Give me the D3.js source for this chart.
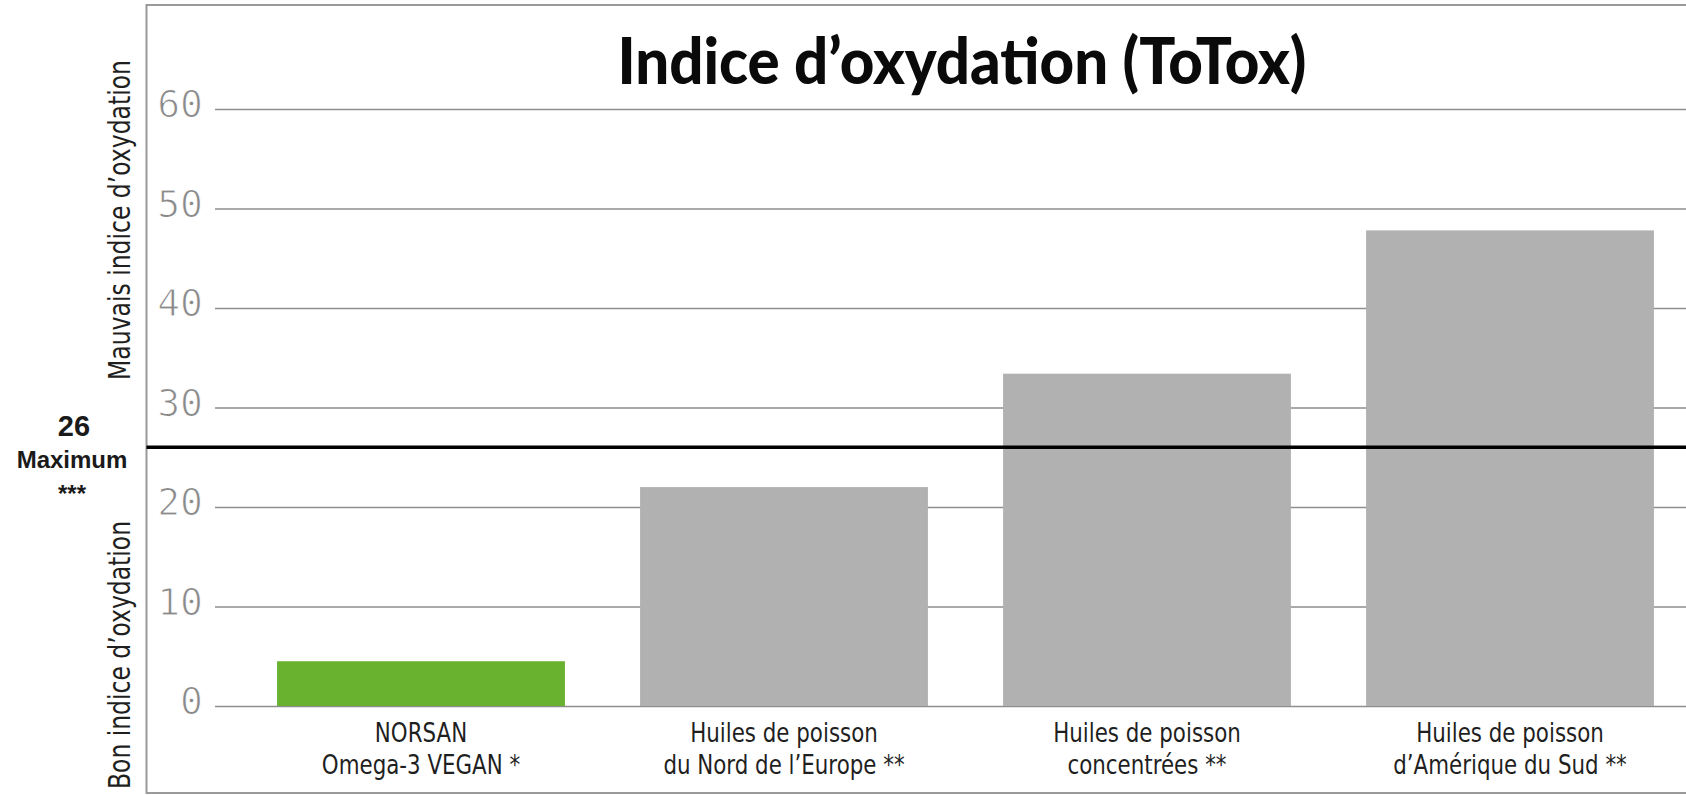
<!DOCTYPE html>
<html lang="fr">
<head>
<meta charset="utf-8">
<title>Indice d'oxydation (ToTox)</title>
<script src="https://cdn.jsdelivr.net/npm/d3@7"></script>
<style>
  html, body { margin: 0; padding: 0; background: #fff; }
  svg { display: block; }
  .tick text { font-family: "DejaVu Sans Mono", monospace; }
  .cat-label { font-family: "Liberation Sans Narrow", "DejaVu Sans Condensed", sans-serif; fill: #1f1f1f; }
  .side-label { font-family: "Liberation Sans Narrow", "DejaVu Sans Condensed", sans-serif; fill: #1f1f1f; }
</style>
</head>
<body>
<div id="chart"></div>
<script>
// Données
const categories = [
  "NORSAN Omega-3 VEGAN *",
  "Huiles de poisson du Nord de l'Europe **",
  "Huiles de poisson concentrées **",
  "Huiles de poisson d'Amérique du Sud **"
];
const categoryLines = [
  ["NORSAN", "Omega-3 VEGAN *"],
  ["Huiles de poisson", "du Nord de l’Europe **"],
  ["Huiles de poisson", "concentrées **"],
  ["Huiles de poisson", "d’Amérique du Sud **"]
];
const totoxValues = [4.5, 22, 33.4, 47.8];
const barColors = ["#68b22f", "#b1b1b1", "#b1b1b1", "#b1b1b1"];
const yTicks = [0, 10, 20, 30, 40, 50, 60];
const maxLimit = 26;
const maxLabels = ["26", "Maximum", "***"];
const titleText = "Indice d’oxydation (ToTox)";
const topAxisLabel = "Mauvais indice d’oxydation";
const bottomAxisLabel = "Bon indice d’oxydation";

// Mise en page
const width = 1686, height = 795;
const frame = { left: 146.5, top: 5, bottom: 793 };
const gridLeft = 215;
const narrow = 0.88; // resserrement horizontal des libellés

const svg = d3.select("#chart").append("svg")
  .attr("width", width)
  .attr("height", height);

// Cadre
svg.append("rect")
  .attr("x", frame.left)
  .attr("y", frame.top)
  .attr("width", width + 20 - frame.left)
  .attr("height", frame.bottom - frame.top)
  .attr("fill", "none")
  .attr("stroke", "#9a9a9a")
  .attr("stroke-width", 2);

// Échelles
const x = d3.scaleBand()
  .domain(categories)
  .range([gridLeft, 1716])
  .paddingInner(0.207)
  .paddingOuter(0.171);

const y = d3.scaleLinear()
  .domain([0, 60])
  .range([706, 109]);

// Axe Y avec lignes de grille
const yAxis = svg.append("g")
  .attr("transform", `translate(${gridLeft},0)`)
  .call(d3.axisLeft(y)
    .tickValues(yTicks)
    .tickSize(-(width - gridLeft))
    .tickPadding(12));

yAxis.select(".domain").remove();
yAxis.selectAll(".tick line")
  .attr("stroke", "#8e8e8e")
  .attr("stroke-width", 1.3);
yAxis.selectAll(".tick text")
  .attr("font-size", 38)
  .attr("dy", "0.2em")
  .attr("fill", "#8a8a8a")
  .attr("stroke", "#fff")
  .attr("stroke-width", 1.1);

// Barres
svg.append("g")
  .selectAll("rect")
  .data(totoxValues)
  .join("rect")
  .attr("x", (_, i) => x(categories[i]))
  .attr("y", d => y(d))
  .attr("width", x.bandwidth())
  .attr("height", d => y(0) - y(d))
  .attr("fill", (_, i) => barColors[i]);

// Ligne du maximum
svg.append("line")
  .attr("x1", frame.left)
  .attr("x2", width)
  .attr("y1", y(maxLimit))
  .attr("y2", y(maxLimit))
  .attr("stroke", "#000")
  .attr("stroke-width", 3.5);

// Étiquettes des catégories (une ligne par texte)
const catLabels = svg.append("g");
categoryLines.forEach((lines, i) => {
  const cx = x(categories[i]) + x.bandwidth() / 2;
  lines.forEach((line, j) => {
    const t = catLabels.append("text")
      .attr("class", "cat-label")
      .attr("text-anchor", "middle")
      .attr("font-size", 27)
      .attr("x", cx)
      .attr("y", 742 + j * 32)
      .text(line);
    const len = t.node().getComputedTextLength();
    t.attr("textLength", len * narrow).attr("lengthAdjust", "spacingAndGlyphs");
  });
});

// Titre
svg.append("text")
  .attr("x", 962)
  .attr("y", 84)
  .attr("text-anchor", "middle")
  .attr("font-family", "Lato, sans-serif")
  .attr("font-weight", 900)
  .attr("font-size", 64)
  .attr("textLength", 689)
  .attr("lengthAdjust", "spacingAndGlyphs")
  .attr("fill", "#0a0a0a")
  .text(titleText);

// Libellés verticaux
svg.append("text")
  .attr("class", "side-label")
  .attr("transform", "translate(130,220) rotate(-90)")
  .attr("text-anchor", "middle")
  .attr("font-size", 31)
  .attr("textLength", 320)
  .attr("lengthAdjust", "spacingAndGlyphs")
  .text(topAxisLabel);

svg.append("text")
  .attr("class", "side-label")
  .attr("transform", "translate(130,655) rotate(-90)")
  .attr("text-anchor", "middle")
  .attr("font-size", 31)
  .attr("textLength", 268)
  .attr("lengthAdjust", "spacingAndGlyphs")
  .text(bottomAxisLabel);

// Repère "26 Maximum ***"
const maxGroup = svg.append("g")
  .attr("font-family", "'Liberation Sans', Arial, sans-serif")
  .attr("font-weight", 700)
  .attr("text-anchor", "middle")
  .attr("fill", "#1a1a1a");

maxGroup.append("text").attr("x", 74).attr("y", 436).attr("font-size", 29).text(maxLabels[0]);
maxGroup.append("text").attr("x", 72).attr("y", 468).attr("font-size", 24).text(maxLabels[1]);
maxGroup.append("text").attr("x", 72).attr("y", 502).attr("font-size", 24).text(maxLabels[2]);
</script>
</body>
</html>
